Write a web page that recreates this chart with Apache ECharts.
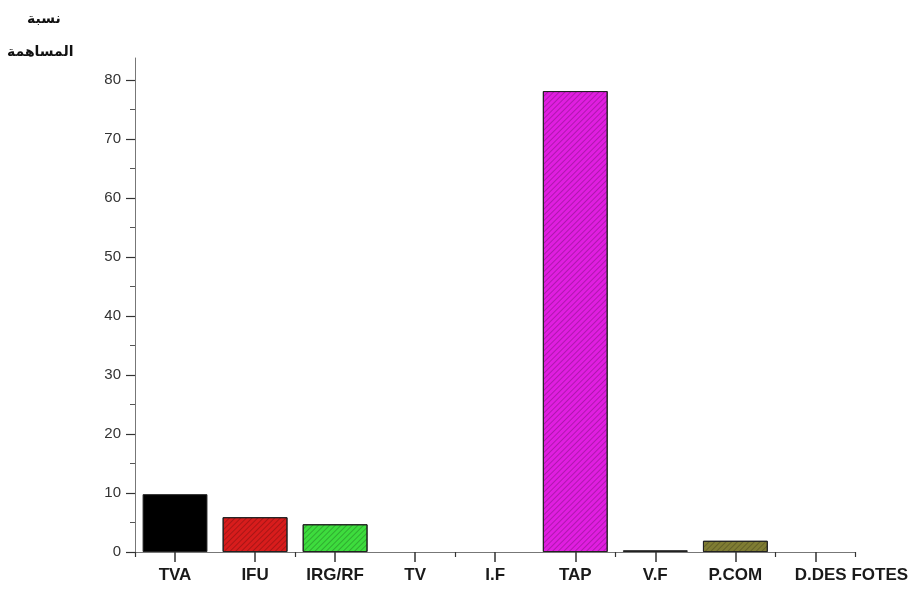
<!DOCTYPE html>
<html>
<head>
<meta charset="utf-8">
<script src="https://cdn.jsdelivr.net/npm/echarts@6/dist/echarts.min.js"></script>
<style>
html,body{margin:0;padding:0;background:#fff;}
#chart{width:911px;height:591px;}
</style>
</head>
<body>
<div id="chart"></div>
<script>
const categories = ['TVA', 'IFU', 'IRG/RF', 'TV', 'I.F', 'TAP', 'V.F', 'P.COM', 'D.DES FOTES'];
const values = [9.8, 5.9, 4.7, 0, 0, 78.1, 0.3, 1.9, 0];
const yTickLabels = [0, 10, 20, 30, 40, 50, 60, 70, 80];
const yMinorTicks = [5, 15, 25, 35, 45, 55, 65, 75];
const yMax = 83.7;
const titleLine1 = 'نسبة';
const titleLine2 = 'المساهمة';

const barColors = ['#000000', '#d81c1c', '#3ddc3d', '#888888', '#888888', '#e01ee0', '#000000', '#7f7c33', '#888888'];
const hatched = [false, true, true, false, false, true, false, true, false];

function makeHatch() {
  return {
    symbol: 'rect',
    symbolSize: 1,
    dashArrayX: [1, 0],
    dashArrayY: [1, 3],
    rotation: -Math.PI / 4,
    color: 'rgba(0,0,0,0.22)'
  };
}

const chart = echarts.init(document.getElementById('chart'), null, {renderer: 'canvas'});

const option = {
  animation: false,
  backgroundColor: '#ffffff',
  grid: {left: 135, right: 54, top: 58, bottom: 39},
  xAxis: [
    {
      type: 'category',
      position: 'bottom',
      data: categories.map((c, i) => i === categories.length - 1
        ? {value: c, textStyle: {padding: [0, 0, 0, 72]}}
        : c),
      axisLine: {show: true, lineStyle: {color: '#777', width: 1}},
      axisTick: {show: true, alignWithLabel: true, length: 10, lineStyle: {color: '#333', width: 1.5}},
      axisLabel: {
        margin: 15,
        fontFamily: 'Liberation Sans, Arial, sans-serif',
        fontWeight: 'bold',
        fontSize: 17,
        color: '#1a1a1a',
        interval: 0
      },
      splitLine: {show: false}
    },
    {
      type: 'category',
      position: 'bottom',
      data: categories,
      axisLine: {show: false},
      axisTick: {show: true, alignWithLabel: false, length: 5, lineStyle: {color: '#333', width: 1.2}},
      axisLabel: {show: false},
      splitLine: {show: false}
    }
  ],
  yAxis: [
    {
      type: 'value',
      position: 'left',
      min: 0,
      max: yMax,
      axisLine: {show: true, lineStyle: {color: '#777', width: 1}},
      axisTick: {show: true, length: 9, customValues: yTickLabels, lineStyle: {color: '#333', width: 1.2}},
      axisLabel: {
        customValues: yTickLabels,
        margin: 14,
        fontFamily: 'Liberation Sans, Arial, sans-serif',
        fontSize: 15,
        color: '#333'
      },
      splitLine: {show: false}
    },
    {
      type: 'value',
      position: 'left',
      min: 0,
      max: yMax,
      axisLine: {show: false},
      axisTick: {show: true, length: 5, customValues: yMinorTicks, lineStyle: {color: '#555', width: 1}},
      axisLabel: {show: false},
      splitLine: {show: false}
    }
  ],
  graphic: [
    {
      type: 'text',
      left: 27,
      top: 12,
      style: {text: titleLine1, font: 'bold 14px "DejaVu Sans", sans-serif', fill: '#111'}
    },
    {
      type: 'text',
      left: 7,
      top: 45,
      style: {text: titleLine2, font: 'bold 14px "DejaVu Sans", sans-serif', fill: '#111'}
    }
  ],
  series: [
    {
      type: 'bar',
      xAxisIndex: 0,
      yAxisIndex: 0,
      barWidth: '81%',
      data: values.map((v, i) => {
        const itemStyle = {
          color: barColors[i],
          borderColor: '#222',
          borderWidth: v > 0 ? 1 : 0
        };
        if (hatched[i]) itemStyle.decal = makeHatch();
        return {value: v, itemStyle: itemStyle};
      })
    }
  ]
};

chart.setOption(option);
</script>
</body>
</html>
